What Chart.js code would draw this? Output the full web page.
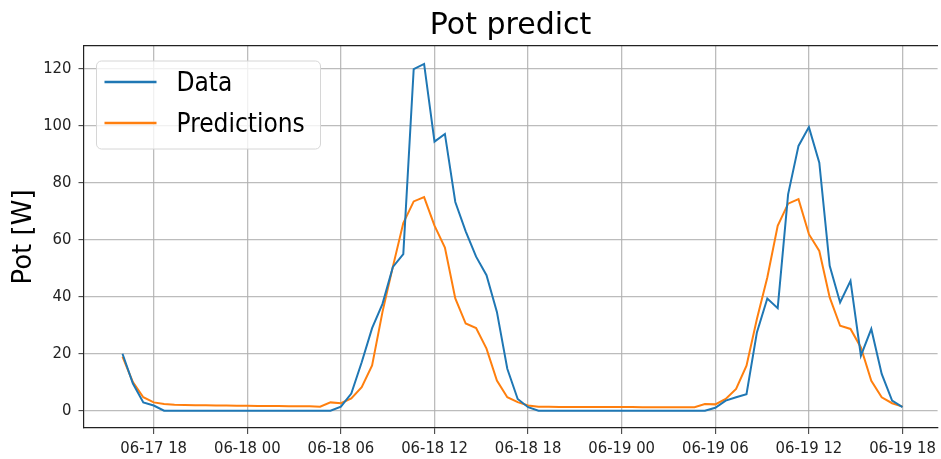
<!DOCTYPE html>
<html>
<head>
<meta charset="utf-8">
<script src="https://cdn.jsdelivr.net/npm/chart.js@4.4.1/dist/chart.umd.min.js"></script>
<style>
  html, body { margin: 0; padding: 0; background: #ffffff; overflow: hidden; }
  #c { display: block; }
</style>
</head>
<body>
<canvas id="c" width="941" height="459"></canvas>
<script>
// ---- data ----
const times = [
  "06-17 16:00","06-17 16:40","06-17 17:20","06-17 18:00","06-17 18:40","06-17 19:20","06-17 20:00","06-17 20:40",
  "06-17 21:20","06-17 22:00","06-17 22:40","06-17 23:20","06-18 00:00","06-18 00:40","06-18 01:20","06-18 02:00",
  "06-18 02:40","06-18 03:20","06-18 04:00","06-18 04:40","06-18 05:20","06-18 06:00","06-18 06:40","06-18 07:20",
  "06-18 08:00","06-18 08:40","06-18 09:20","06-18 10:00","06-18 10:40","06-18 11:20","06-18 12:00","06-18 12:40",
  "06-18 13:20","06-18 14:00","06-18 14:40","06-18 15:20","06-18 16:00","06-18 16:40","06-18 17:20","06-18 18:00",
  "06-18 18:40","06-18 19:20","06-18 20:00","06-18 20:40","06-18 21:20","06-18 22:00","06-18 22:40","06-18 23:20",
  "06-19 00:00","06-19 00:40","06-19 01:20","06-19 02:00","06-19 02:40","06-19 03:20","06-19 04:00","06-19 04:40",
  "06-19 05:20","06-19 06:00","06-19 06:40","06-19 07:20","06-19 08:00","06-19 08:40","06-19 09:20","06-19 10:00",
  "06-19 10:40","06-19 11:20","06-19 12:00","06-19 12:40","06-19 13:20","06-19 14:00","06-19 14:40","06-19 15:20",
  "06-19 16:00","06-19 16:40","06-19 17:20","06-19 18:00"
];

const dataValues = [
  20, 9.5, 2.9, 1.8, 0, 0, 0, 0,
  0, 0, 0, 0, 0, 0, 0, 0,
  0, 0, 0, 0, 0, 1.4, 6.0, 17,
  29, 37.5, 50.5, 55, 120, 121.8, 94.5, 97.2,
  73.3, 63, 54.1, 47.6, 34.7, 14.7, 4.1, 1.2,
  0, 0, 0, 0, 0, 0, 0, 0,
  0, 0, 0, 0, 0, 0, 0, 0,
  0, 1.0, 3.5, 4.7, 5.8, 27.5, 39.4, 36,
  76, 93, 99.6, 87.1, 50.9, 38, 45.6, 19.3,
  28.7, 12.9, 3.5, 1.2
];

const predValues = [
  19, 10, 4.7, 2.9, 2.3, 2.1, 2.0, 1.9,
  1.9, 1.8, 1.8, 1.7, 1.7, 1.6, 1.6, 1.6,
  1.5, 1.5, 1.5, 1.4, 2.9, 2.6, 4.3, 8.2,
  15.9, 34.7, 50.6, 65.9, 73.5, 75, 65, 57.3,
  39.4, 30.6, 29, 21.8, 10.6, 4.7, 3.0, 1.8,
  1.4, 1.4, 1.3, 1.3, 1.3, 1.3, 1.3, 1.3,
  1.3, 1.3, 1.2, 1.2, 1.2, 1.2, 1.2, 1.2,
  2.3, 2.2, 4.1, 7.6, 15.8, 32.2, 46.8, 64.9,
  72.7, 74.3, 62, 56.1, 39.8, 29.8, 28.7, 22.2,
  10.5, 4.7, 2.6, 1.4
];

const seriesNames = ["Data", "Predictions"];
const seriesColors = ["#1f77b4", "#ff7f0e"];

const xTickLabels = ["06-17 18","06-18 00","06-18 06","06-18 12","06-18 18","06-19 00","06-19 06","06-19 12","06-19 18"];
const yTickValues = [0, 20, 40, 60, 80, 100, 120];

const titleText = "Pot predict";
const yAxisLabel = "Pot [W]";

// ---- helpers: convert "MM-DD HH:MM" to hours since 06-17 00:00 ----
function toHours(s) {
  const [md, hm] = s.split(" ");
  const day = parseInt(md.split("-")[1], 10);
  const [h, m] = hm.split(":").map(Number);
  return (day - 17) * 24 + h + m / 60;
}
const xHours = times.map(toHours);
const xTickHours = xTickLabels.map(l => toHours(l + ":00"));

const mkPoints = vals => vals.map((v, i) => ({ x: xHours[i], y: v }));

const TICK_FONT = { family: "'DejaVu Sans Condensed', 'DejaVu Sans', sans-serif", size: 16.5 };
const GRID_COLOR = "rgba(176,176,176,0.85)";

// legend drawn in matplotlib style inside the axes
const mplLegend = {
  id: "mplLegend",
  afterDatasetsDraw(chart) {
    const { ctx, chartArea } = chart;
    const x0 = chartArea.left + 13, y0 = chartArea.top + 15;
    const w = 224, h = 88, r = 5;
    ctx.save();
    ctx.beginPath();
    ctx.moveTo(x0 + r, y0);
    ctx.arcTo(x0 + w, y0, x0 + w, y0 + h, r);
    ctx.arcTo(x0 + w, y0 + h, x0, y0 + h, r);
    ctx.arcTo(x0, y0 + h, x0, y0, r);
    ctx.arcTo(x0, y0, x0 + w, y0, r);
    ctx.closePath();
    ctx.fillStyle = "rgba(255,255,255,0.8)";
    ctx.fill();
    ctx.strokeStyle = "#d6d6d6";
    ctx.lineWidth = 1;
    ctx.stroke();
    ctx.font = "26px 'DejaVu Sans Condensed', 'DejaVu Sans', sans-serif";
    ctx.textBaseline = "middle";
    ctx.fillStyle = "#000";
    chart.data.datasets.forEach((ds, i) => {
      const yy = y0 + 21 + i * 41;
      ctx.strokeStyle = ds.borderColor;
      ctx.lineWidth = 2.5;
      ctx.beginPath();
      ctx.moveTo(x0 + 8, yy);
      ctx.lineTo(x0 + 60, yy);
      ctx.stroke();
      ctx.fillText(ds.label, x0 + 80, yy + 2);
    });
    ctx.restore();
  }
};

new Chart(document.getElementById("c"), {
  type: "line",
  data: {
    datasets: [
      { label: seriesNames[0], data: mkPoints(dataValues), borderColor: seriesColors[0], backgroundColor: seriesColors[0],
        borderWidth: 2, pointRadius: 0, tension: 0, fill: false },
      { label: seriesNames[1], data: mkPoints(predValues), borderColor: seriesColors[1], backgroundColor: seriesColors[1],
        borderWidth: 2, pointRadius: 0, tension: 0, fill: false }
    ]
  },
  options: {
    responsive: false,
    animation: false,
    devicePixelRatio: 1,
    layout: { padding: 0 },
    plugins: {
      legend: { display: false },
      tooltip: { enabled: false },
      title: { display: false }
    },
    scales: {
      x: {
        type: "linear",
        position: "bottom",
        min: 13.5,
        max: 68.25,
        afterBuildTicks: s => { s.ticks = xTickHours.map(v => ({ value: v })); },
        afterFit: s => { s.height = 31; },
        ticks: {
          font: TICK_FONT, color: "#222", padding: 5, maxRotation: 0, autoSkip: false,
          callback: v => { const k = xTickHours.indexOf(v); return k >= 0 ? xTickLabels[k] : ""; }
        },
        grid: { color: GRID_COLOR, lineWidth: 1.3, tickLength: 6, tickColor: "#333", tickWidth: 1 },
        border: { display: true, color: "#222", width: 1.2 }
      },
      xTop: {
        type: "linear",
        position: "top",
        min: 13.5,
        max: 68.25,
        afterFit: s => { s.height = 46; },
        ticks: { display: false },
        grid: { display: false },
        border: { display: true, color: "#222", width: 1.2 },
        title: {
          display: true, text: titleText, color: "#000",
          font: { family: "'DejaVu Sans', sans-serif", size: 30, weight: "normal" },
          padding: { top: 8, bottom: 0 }
        }
      },
      y: {
        type: "linear",
        min: -6.1,
        max: 128.1,
        afterBuildTicks: s => { s.ticks = yTickValues.map(v => ({ value: v })); },
        afterFit: s => { s.width = 83.5; },
        ticks: { font: TICK_FONT, color: "#222", padding: 7 },
        grid: { color: GRID_COLOR, lineWidth: 1.3, tickLength: 5, tickColor: "#333", tickWidth: 1 },
        border: { display: true, color: "#222", width: 1.2 },
        title: {
          display: true, text: yAxisLabel, color: "#000",
          font: { family: "'DejaVu Sans', sans-serif", size: 26, weight: "normal" },
          padding: { top: 9, bottom: 0 }
        }
      }
    }
  },
  plugins: [mplLegend]
});
</script>
</body>
</html>
